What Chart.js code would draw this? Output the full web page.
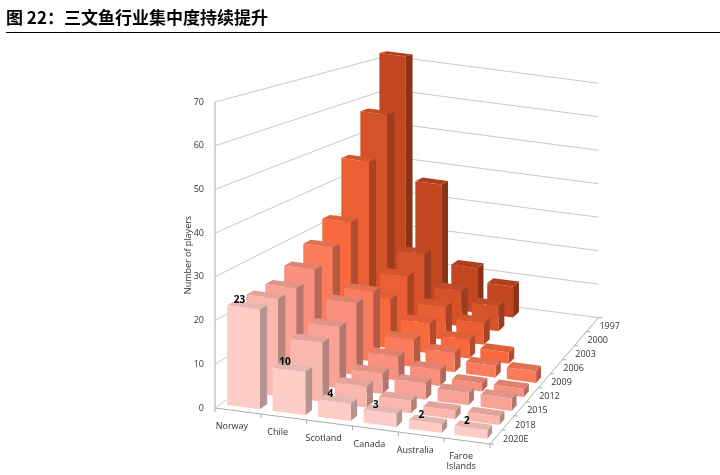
<!DOCTYPE html>
<html>
<head>
<meta charset="utf-8">
<script src="https://cdn.jsdelivr.net/npm/chart.js@4"></script>
<style>
  body { margin: 0; background: #fff; }
  #wrap { position: relative; width: 720px; height: 475px; }
  #title {
    position: absolute; left: 6px; top: 4px; width: 714px;
    font-family: "Noto Sans CJK SC", serif; font-weight: bold; font-size: 17px;
    color: #000; padding-bottom: 3px; border-bottom: 1.5px solid #000;
  }
</style>
</head>
<body>
<div id="wrap">
  <div id="title">图 22：三文鱼行业集中度持续提升</div>
  <canvas id="myChart" width="720" height="475"></canvas>
</div>
<script>
const countries = ['Norway', 'Chile', 'Scotland', 'Canada', 'Australia', ['Faroe', 'Islands']];
const years = ['1997', '2000', '2003', '2006', '2009', '2012', '2015', '2018', '2020E'];

// values per country, ordered like years (1997 -> 2020E)
const norway    = [72, 57, 46, 32, 28, 25, 23, 23, 23];
const chile     = [36, 19, 16, 13, 18, 18, 15, 14, 10];
const scotland  = [13, 10, 9, 8, 7, 6, 5, 5, 4];
const canada    = [9, 7, 6, 5, 5, 4, 4, 3, 3];
const australia = [null, null, null, 3, 3, 2, 3, 2, 2];
const faroe     = [null, null, null, null, 3, 2, 3, 2, 2];
const yTicks    = [0, 10, 20, 30, 40, 50, 60, 70];

const byCountry = [norway, chile, scotland, canada, australia, faroe];
const yearColors = ['#c2461f', '#d6532a', '#ea5f34', '#f86a3e', '#fb7c5c', '#f9907e', '#f9a396', '#fab7ad', '#fcccc5'];

function shade(hex, f) {
    const n = parseInt(hex.slice(1), 16);
    let r = n >> 16, g = (n >> 8) & 255, b = n & 255;
    if (f < 0) { r *= 1 + f; g *= 1 + f; b *= 1 + f; }
    else { r += (255 - r) * f; g += (255 - g) * f; b += (255 - b) * f; }
    return `rgb(${Math.round(r)},${Math.round(g)},${Math.round(b)})`;
}

const depthDx = 19.2, depthDy = -13.1, slope = 6, shrink = 0.026;

function makeProjector(chart) {
    const xs = chart.scales.x, ys = chart.scales.y;
    const colW = xs.width / countries.length;
    const x0 = xs.left, y0 = ys.getPixelForValue(0);
    return function (c, d, v) {
        const s = 1 - shrink * d;
        const h = y0 - ys.getPixelForValue(v);
        return [x0 + d * depthDx + c * colW * s, y0 + d * depthDy + c * slope * s - h * s];
    };
}

function poly(ctx, pts, fill, stroke) {
    ctx.beginPath();
    ctx.moveTo(pts[0][0], pts[0][1]);
    for (let i = 1; i < pts.length; i++) ctx.lineTo(pts[i][0], pts[i][1]);
    ctx.closePath();
    if (fill) { ctx.fillStyle = fill; ctx.fill(); }
    if (stroke) { ctx.strokeStyle = stroke; ctx.stroke(); }
}

const walls3d = {
    id: 'walls3d',
    beforeDatasetsDraw(chart) {
        const ctx = chart.ctx, P = makeProjector(chart);
        const nC = countries.length, nD = years.length;
        ctx.save();
        ctx.lineWidth = 1;
        ctx.strokeStyle = '#c8c8c8';
        yTicks.forEach(v => {
            const a = P(0, 0, v), b = P(0, nD, v), c = P(nC, nD, v);
            ctx.beginPath();
            ctx.moveTo(a[0], a[1]); ctx.lineTo(b[0], b[1]); ctx.lineTo(c[0], c[1]);
            ctx.stroke();
        });
        ctx.strokeStyle = '#aaa';
        let a = P(0, 0, 0), b = P(0, 0, 70);
        ctx.beginPath(); ctx.moveTo(a[0], a[1]); ctx.lineTo(b[0], b[1]); ctx.stroke();
        a = P(0, nD, 0); b = P(0, nD, 70);
        ctx.beginPath(); ctx.moveTo(a[0], a[1]); ctx.lineTo(b[0], b[1]); ctx.stroke();
        // floor front edge and right edge
        a = P(0, 0, 0); b = P(nC, 0, 0); const c = P(nC, nD, 0);
        ctx.beginPath(); ctx.moveTo(a[0], a[1]); ctx.lineTo(b[0], b[1]); ctx.lineTo(c[0], c[1]); ctx.stroke();
        for (let i = 0; i <= nC; i++) {
            const p = P(i, 0, 0);
            ctx.beginPath(); ctx.moveTo(p[0], p[1]); ctx.lineTo(p[0], p[1] + 4); ctx.stroke();
        }
        for (let j = 0; j <= nD; j++) {
            const p = P(nC, j, 0);
            ctx.beginPath(); ctx.moveTo(p[0], p[1]); ctx.lineTo(p[0] + 4, p[1]); ctx.stroke();
        }
        // labels
        ctx.fillStyle = '#333';
        ctx.font = '9px "Open Sans", sans-serif';
        ctx.textAlign = 'center';
        ctx.textBaseline = 'top';
        countries.forEach((name, i) => {
            const p = P(i + 0.5, 0, 0);
            const lines = Array.isArray(name) ? name : [name];
            lines.forEach((t, k) => ctx.fillText(t, p[0] - 6, p[1] + 11 + k * 10));
        });
        ctx.textAlign = 'left';
        ctx.textBaseline = 'middle';
        years.forEach((yr, j) => {
            const p = P(nC, nD - 1 - j + 0.5, 0);
            ctx.fillText(yr, p[0] + 7, p[1] + 2);
        });
        ctx.save();
        ctx.translate(188, 255);
        ctx.rotate(-Math.PI / 2);
        ctx.textAlign = 'center';
        ctx.fillText('Number of players', 0, 0);
        ctx.restore();
        ctx.restore();
    },
    afterDatasetsDraw(chart) {
        const ctx = chart.ctx, P = makeProjector(chart);
        const nD = years.length;
        ctx.save();
        ctx.lineWidth = 0.5;
        for (let yi = 0; yi < nD; yi++) {
            const d = nD - 1 - yi; // 1997 at the back
            const col = yearColors[yi];
            byCountry.forEach((vals, i) => {
                const v = vals[yi];
                if (v == null) return;
                const c0 = i + 0.14, c1 = i + 0.86, d0 = d + 0.3, d1 = d + 0.7;
                poly(ctx, [P(c1, d0, 0), P(c1, d1, 0), P(c1, d1, v), P(c1, d0, v)], shade(col, -0.28));
                poly(ctx, [P(c0, d0, v), P(c1, d0, v), P(c1, d1, v), P(c0, d1, v)], shade(col, -0.1));
                poly(ctx, [P(c0, d0, 0), P(c1, d0, 0), P(c1, d0, v), P(c0, d0, v)], col);
                if (yi === nD - 1) {
                    const t = P(i + 0.5, d0, v);
                    ctx.fillStyle = '#000';
                    ctx.font = 'bold 10px "Open Sans", sans-serif';
                    ctx.textAlign = 'center';
                    ctx.textBaseline = 'bottom';
                    ctx.fillText(String(v), t[0] - 4, t[1] - 2);
                }
            });
        }
        ctx.restore();
    }
};

new Chart(document.getElementById('myChart'), {
    type: 'bar',
    data: {
        labels: countries,
        datasets: years.map((yr, yi) => ({
            label: yr,
            data: byCountry.map(v => v[yi]),
            backgroundColor: 'rgba(0,0,0,0)'
        }))
    },
    options: {
        responsive: false,
        animation: false,
        layout: { padding: { top: 102, bottom: 67, left: 0, right: 230 } },
        plugins: { legend: { display: false }, tooltip: { enabled: false } },
        scales: {
            x: { display: false },
            y: {
                min: 0, max: 70,
                afterFit(scale) { scale.width = 215; },
                afterBuildTicks(scale) { scale.ticks = yTicks.map(v => ({ value: v })); },
                grid: { display: false },
                border: { display: false },
                ticks: { color: '#333', font: { size: 9, family: '"Open Sans", sans-serif' }, padding: 3 }
            }
        }
    },
    plugins: [walls3d]
});
</script>
</body>
</html>
